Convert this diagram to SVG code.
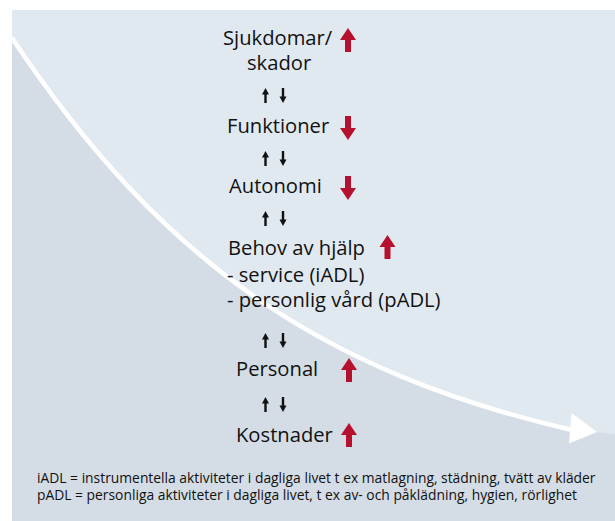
<svg xmlns="http://www.w3.org/2000/svg" xmlns:xlink="http://www.w3.org/1999/xlink" width="615" height="521" viewBox="0 0 615 521">
<style>
.t{font-family:"Open Sans","Noto Sans","Liberation Sans",sans-serif;font-size:20.2px;fill:#111}
.f{font-family:"Open Sans","Noto Sans","Liberation Sans",sans-serif;font-size:13.85px;fill:#111}
.red{fill:#b5102e}
.blk{fill:#111}
</style>
<defs>
<path id="ru" d="M0,0 L8,12 L3,12 L3,24 L-3,24 L-3,12 L-8,12 Z"/>
<path id="rd" d="M0,24 L8,12 L3,12 L3,0 L-3,0 L-3,12 L-8,12 Z"/>
<path id="bu" d="M0,0 L3.5,6.5 L1.2,6.5 L1.2,15 L-1.2,15 L-1.2,6.5 L-3.5,6.5 Z"/>
<path id="bd" d="M0,15 L3.5,8.5 L1.2,8.5 L1.2,0 L-1.2,0 L-1.2,8.5 L-3.5,8.5 Z"/>
</defs>
<rect x="0" y="0" width="615" height="521" fill="#ffffff"/>
<g id="background">
<rect x="12" y="10" width="603" height="511" fill="#e1e9f0"/>
<path d="M12,38 C162,263 322,372.5 572,430 L597,432 L615,434 L615,521 L12,521 Z" fill="#d4dde5"/>
<path d="M12,38 C162,263 322,372.5 574,430.5" fill="none" stroke="#ffffff" stroke-width="4.5"/>
<polygon points="571.5,413 597,432 569,443.5" fill="#ffffff"/>
</g>
<g id="connectors" class="blk">
<use xlink:href="#bu" x="265.5" y="88"/><use xlink:href="#bd" x="283" y="88"/>
<use xlink:href="#bu" x="265.5" y="151"/><use xlink:href="#bd" x="283" y="151"/>
<use xlink:href="#bu" x="265.5" y="211"/><use xlink:href="#bd" x="283" y="211"/>
<use xlink:href="#bu" x="265.5" y="333"/><use xlink:href="#bd" x="283" y="333"/>
<use xlink:href="#bu" x="265.5" y="397"/><use xlink:href="#bd" x="283" y="397"/>
</g>
<g id="node-sjukdomar">
<text class="t" x="223" y="45">Sjukdomar/</text>
<text class="t" x="247" y="70">skador</text>
<use class="red" xlink:href="#ru" x="348" y="28"/>
</g>
<g id="node-funktioner">
<text class="t" x="227" y="133">Funktioner</text>
<use class="red" xlink:href="#rd" x="348" y="116"/>
</g>
<g id="node-autonomi">
<text class="t" x="229" y="193">Autonomi</text>
<use class="red" xlink:href="#rd" x="348" y="176"/>
</g>
<g id="node-behov">
<text class="t" x="228" y="255">Behov av hjälp</text>
<text class="t" x="227" y="282">- service (iADL)</text>
<text class="t" x="227" y="307">- personlig vård (pADL)</text>
<use class="red" xlink:href="#ru" x="387.5" y="235"/>
</g>
<g id="node-personal">
<text class="t" x="236" y="376">Personal</text>
<use class="red" xlink:href="#ru" x="349" y="358"/>
</g>
<g id="node-kostnader">
<text class="t" x="236" y="442">Kostnader</text>
<use class="red" xlink:href="#ru" x="349" y="423"/>
</g>
<g id="footnote">
<text class="f" x="37" y="483">iADL = instrumentella aktiviteter i dagliga livet t ex matlagning, städning, tvätt av kläder</text>
<text class="f" x="37" y="500">pADL = personliga aktiviteter i dagliga livet, t ex av- och påklädning, hygien, rörlighet</text>
</g>
</svg>
